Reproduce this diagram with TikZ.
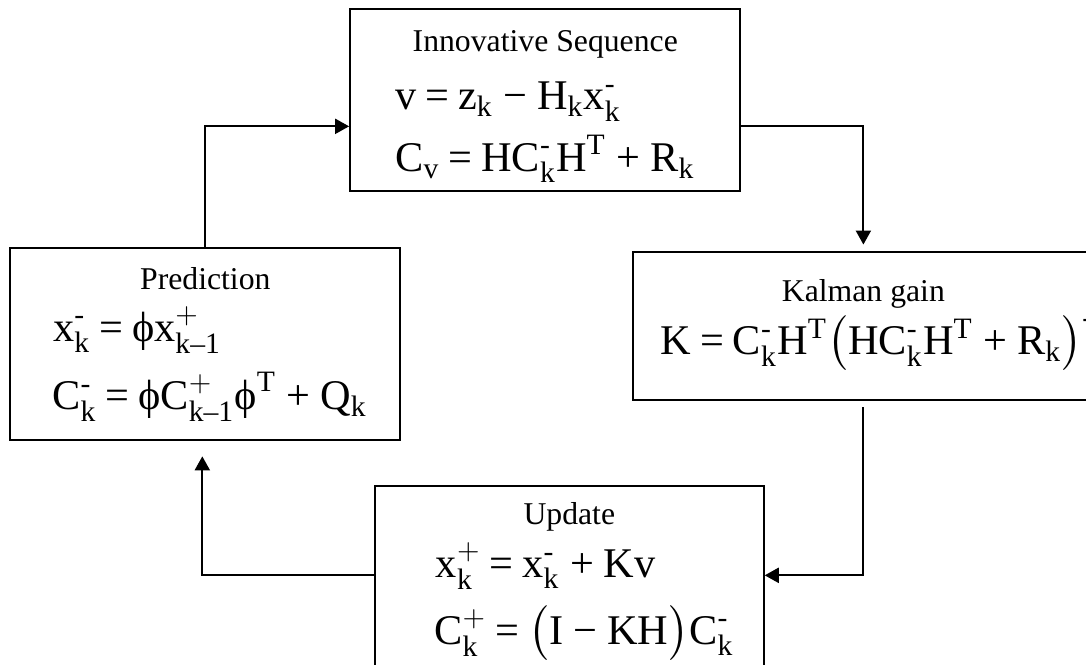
\documentclass[tikz,border=0pt]{standalone}
\usepackage{amsmath}
\usepackage{fontspec}
\setmainfont{Liberation Serif}
\setmathrm{Liberation Serif}
\usetikzlibrary{arrows.meta}
\thickmuskip=3.5mu plus 2mu
\newcommand{\uphi}{\mbox{\char"03D5}}
\newcommand{\supm}{\text{-}}
\newcommand{\subm}{\text{\textendash}}
\newcommand{\eqs}{\mathrel{\text{=}}}
\newcommand{\pls}{\mathbin{\text{+}}}
\newcommand{\mns}{\mathbin{\text{\char"2212}}}
\begin{document}
\begin{tikzpicture}[
    block/.style={rectangle, draw, line width=0.75pt, inner sep=0pt},
    head/.style={font=\fontsize{12}{14}\selectfont, inner sep=0pt, anchor=base},
    formula/.style={font=\fontsize{16}{19}\selectfont, inner sep=0pt, anchor=base west},
    link/.style={draw, line width=0.75pt, -{Triangle[length=5.3pt, width=5.7pt]}}
]
\useasboundingbox (0,0) rectangle (14.44,8.84);
\clip (0,0) rectangle (14.44,8.84);
\node[block, minimum width=5.19cm, minimum height=2.41cm] (inn) at (7.25,7.51) {};
\node[block, minimum width=5.19cm, minimum height=2.55cm] (pred) at (2.73,4.27) {};
\node[block, minimum width=6.14cm, minimum height=1.97cm] (gain) at (11.48,4.50) {};
\node[block, minimum width=5.17cm, minimum height=2.71cm] (upd) at (7.57,1.02) {};

\node[head] (innT) at (7.25,8.15) {Innovative Sequence};
\node[formula] (innA) at (5.25,7.38) {$\mathrm{v \eqs z_k \mns H_k x_k^{\supm}}$};
\node[formula] (innB) at (5.25,6.56) {$\mathrm{C_v \eqs HC_k^{\supm}H^T \pls R_k}$};

\node[head] (predT) at (2.73,4.99) {Prediction};
\node[formula] (predA) at (0.70,4.30) {$\mathrm{x_k^{\supm} \eqs \uphi x_{k\subm 1}^{+}}$};
\node[formula] (predB) at (0.69,3.39) {$\mathrm{C_k^{\supm} \eqs \uphi C_{k\subm 1}^{+}\uphi^T \pls Q_k}$};

\node[head] (gainT) at (11.48,4.83) {Kalman gain};
\node[formula] (gainA) at (8.78,4.12) {$\mathrm{K \eqs C_k^{\supm}H^T\bigl(HC_k^{\supm}H^T \pls R_k\bigr)^{\supm}}$};

\node[head] (updT) at (7.57,1.86) {Update};
\node[formula] (updA) at (5.79,1.16) {$\mathrm{x_k^{+} \eqs x_k^{\supm} \pls Kv}$};
\node[formula] (updB) at (5.77,0.27) {$\mathrm{C_k^{+} \eqs \bigl(I \mns KH\bigr)C_k^{\supm}}$};

\draw[link] (pred) |- ([yshift=-0.35cm]inn.west);
\draw[link] ([yshift=-0.35cm]inn.east) -| ([yshift=0.09cm]gain.north);
\draw[link] ([yshift=-0.08cm]gain.south) |- ([yshift=0.17cm]upd.east);
\draw[link] ([yshift=0.17cm]upd.west) -| ([xshift=-0.04cm,yshift=-0.21cm]pred.south);
\end{tikzpicture}
\end{document}
